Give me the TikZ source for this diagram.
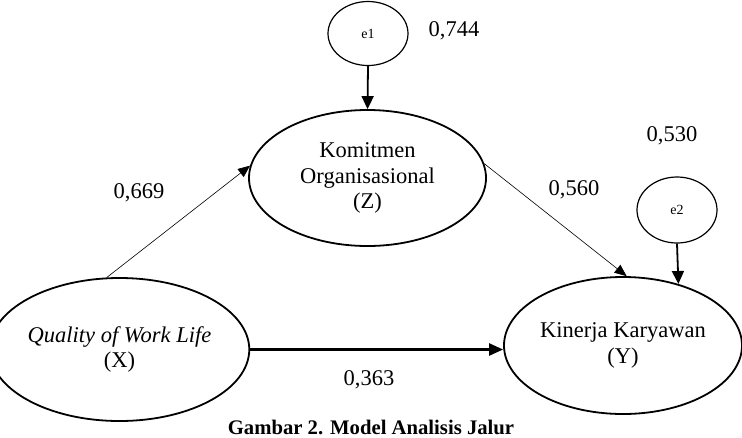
\documentclass[tikz,border=0pt]{standalone}
\usepackage{fontspec}
\setmainfont{Liberation Serif}
\usetikzlibrary{shapes.geometric,arrows.meta}
\begin{document}
\begin{tikzpicture}[x=1pt,y=-1pt,inner sep=0pt,
    var/.style={ellipse, draw, line width=1.8pt, align=center, font=\fontsize{22.5}{25.5}\selectfont},
    err/.style={ellipse, draw, line width=1.2pt, minimum width=80pt, minimum height=64pt, font=\fontsize{14}{16}\selectfont},
    coef/.style={font=\fontsize{22.5}{25}\selectfont},
    thinpath/.style={-{Triangle[length=12pt,width=10pt]}, line width=0.6pt},
    thickpath/.style={-{Triangle[length=14pt,width=12pt]}, line width=2.4pt},
    errpath/.style={-{Triangle[length=13pt,width=12pt]}, line width=1.8pt}]
    \useasboundingbox (0,0) rectangle (742,437);

    \node[var, minimum width=237pt, minimum height=143pt] (X) at (119.5,349.5) {\textit{Quality of Work Life}\\(X)};
    \node[var, minimum width=237pt, minimum height=136pt] (Z) at (367.5,178) {Komitmen\\Organisasional\\(Z)};
    \node[var, minimum width=238pt, minimum height=137pt] (Y) at (623,345.5) {Kinerja Karyawan\\(Y)};
    \node[err] (e1) at (368,33.5) {e1};
    \node[err, minimum height=66pt] (e2) at (677,210) {e2};

    \draw[thickpath] (X.east) -- (X.east -| Y.west);
    \draw[thinpath] (X.100) -- (Z.174);
    \draw[thinpath] (Z.7) -- (Y.87);
    \draw[errpath] (e1.south) -- (Z.north);
    \draw[errpath] (e2.south) -- (Y.48.5);

    \foreach \v/\x/\y [count=\i] in {{0,669}/139/193, {0,744}/454/31, {0,530}/672/136, {0,560}/574/190, {0,363}/369/380}
        \node[coef] (c\i) at (\x,\y) {\v};
    \node[font=\bfseries\fontsize{20.7}{24}\selectfont, anchor=base] (cap) at (371,434) {Gambar 2. Model Analisis Jalur};
\end{tikzpicture}
\end{document}
